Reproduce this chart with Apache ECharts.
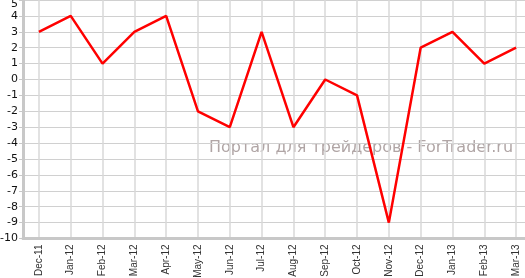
<!DOCTYPE html>
<html><head><meta charset="utf-8">
<script src="https://cdn.jsdelivr.net/npm/echarts@6/dist/echarts.min.js"></script>
<style>html,body{margin:0;padding:0;background:#fff}#c{width:525px;height:278px}</style>
</head><body><div id="c"></div>
<script>
const categories = ['Dec-11','Jan-12','Feb-12','Mar-12','Apr-12','May-12','Jun-12','Jul-12','Aug-12','Sep-12','Oct-12','Nov-12','Dec-12','Jan-13','Feb-13','Mar-13'];
const values = [3,4,1,3,4,-2,-3,3,-3,0,-1,-9,2,3,1,2];
const watermark = 'Портал для трейдеров - ForTrader.ru';

const chart = echarts.init(document.getElementById('c'));
chart.setOption({
  animation: false,
  grid: {left: 23, top: 0, width: 509, height: 238.5, outerBoundsMode: 'none', containLabel: false},
  graphic: [{type: 'text', left: 209, top: 140, z: 0, silent: true,
    style: {text: watermark, font: '16px "DejaVu Sans"', fill: 'rgba(150,135,135,0.75)'}}],
  xAxis: {
    type: 'category', data: categories, boundaryGap: true,
    axisLine: {onZero: false, lineStyle: {color: '#c8c8c8', width: 3}},
    axisTick: {alignWithLabel: true, length: 5, lineStyle: {color: '#c8c8c8', width: 1.5}},
    axisLabel: {rotate: 90, interval: 0, margin: 6, fontFamily: 'Liberation Sans', fontSize: 10, color: '#333'},
    splitLine: {show: true, alignWithLabel: true, lineStyle: {color: '#d8d8d8', width: 1.5}}
  },
  yAxis: {
    type: 'value', min: -10, max: 5, interval: 1,
    axisLine: {show: true, lineStyle: {color: '#c8c8c8', width: 3}},
    axisTick: {show: true, length: 4, lineStyle: {color: '#c8c8c8', width: 1}},
    axisLabel: {margin: 5, fontFamily: 'DejaVu Sans', fontSize: 11, color: '#111',
      formatter: v => v === 5 ? '{t|5}' : String(v),
      rich: {t: {fontFamily: 'DejaVu Sans', fontSize: 11, color: '#111', padding: [9, 0, 0, 0]}}},
    splitLine: {lineStyle: {color: '#d0d0d0', width: 1}}
  },
  series: [{type: 'line', data: values, showSymbol: false, symbol: 'none', z: 5,
    lineStyle: {color: '#ff0000', width: 2.5}}]
});
</script></body></html>
